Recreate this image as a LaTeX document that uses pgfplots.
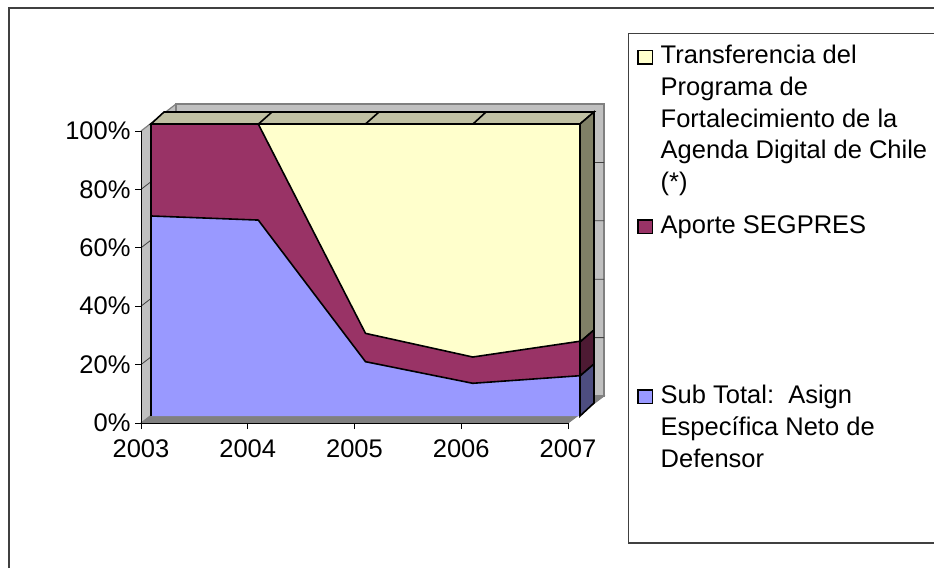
\documentclass[border=0pt]{standalone}
\usepackage{pgfplots}
\usepackage{fontspec}
\setmainfont{Liberation Sans}
\pgfplotsset{compat=1.18}
\definecolor{cblue}{HTML}{9999FF}
\definecolor{cmaroon}{HTML}{993366}
\definecolor{cyellow}{HTML}{FFFFCC}
\definecolor{topf}{HTML}{C0C0A3}
\definecolor{sidey}{HTML}{808066}
\definecolor{sidem}{HTML}{4D1A33}
\definecolor{sideb}{HTML}{4D4D80}
\definecolor{wall}{HTML}{C0C0C0}
\definecolor{floorc}{HTML}{808080}
\definecolor{frame}{HTML}{404040}
\newcommand{\lab}{\fontsize{25.5}{30}\selectfont}
\begin{document}
\begin{tikzpicture}[x=1pt,y=1pt]
% pixel-space layer: frame, walls, legend
\begin{axis}[name=page,at={(0pt,0pt)},anchor=south west,scale only axis,width=934pt,height=568pt,
  xmin=0,xmax=934,ymin=0,ymax=568,y dir=reverse,hide axis,clip=true]
\path (axis cs:0,0) rectangle (axis cs:934,568);
\addplot[draw=frame,line width=1.8pt,forget plot] coordinates {(9,568) (9,8) (934,8)};
\addplot[draw=frame,line width=1.2pt,fill=white,forget plot] coordinates {(934,33.5) (628.5,33.5) (628.5,543) (934,543)};
% walls
\addplot[draw=none,fill=wall,forget plot] coordinates {(141,131) (176,104) (176,396) (141,423)} -- cycle;
\addplot[draw=floorc,line width=1.2pt,fill=wall,forget plot] coordinates {(176,396) (176,104) (604,104) (604,396)} -- cycle;
\addplot[draw=floorc,line width=1pt,fill=floorc,forget plot] coordinates {(141,423) (568,423) (604,396) (176,396)} -- cycle;
\addplot[draw=floorc,line width=1.2pt,forget plot] coordinates {(141,131) (176,104)};
% gridlines
\addplot[draw=black!75,line width=.8pt,forget plot] coordinates {(141,189.4) (176,162.4) (604,162.4)};
\addplot[draw=black!75,line width=.8pt,forget plot] coordinates {(141,247.8) (176,220.8) (604,220.8)};
\addplot[draw=black!75,line width=.8pt,forget plot] coordinates {(141,306.2) (176,279.2) (604,279.2)};
\addplot[draw=black!75,line width=.8pt,forget plot] coordinates {(141,364.6) (176,337.6) (604,337.6)};
% faces of the depth
\addplot[draw=black,line width=1.6pt,fill=topf,forget plot] coordinates {(151,124) (580,124) (594,112) (164,112)} -- cycle;
\addplot[draw=black,line width=1.6pt,forget plot] coordinates {(258.5,124) (272,112)};
\addplot[draw=black,line width=1.6pt,forget plot] coordinates {(365.5,124) (379,112)};
\addplot[draw=black,line width=1.6pt,forget plot] coordinates {(473,124) (486,112)};
\addplot[draw=black,line width=1.6pt,fill=sidey,forget plot] coordinates {(580,124) (594,112) (594,330) (580,342)} -- cycle;
\addplot[draw=black,line width=1.6pt,fill=sidem,forget plot] coordinates {(580,342) (594,330) (594,364) (580,376)} -- cycle;
\addplot[draw=black,line width=1.6pt,fill=sideb,forget plot] coordinates {(580,376) (594,364) (594,403) (580,416)} -- cycle;
% legend keys and text
\addplot[draw=black,line width=1.5pt,fill=cyellow,forget plot] coordinates {(638,50.5) (652.5,50.5) (652.5,64) (638,64)} -- cycle;
\addplot[draw=black,line width=1.5pt,fill=cmaroon,forget plot] coordinates {(638,220) (652.5,220) (652.5,233.5) (638,233.5)} -- cycle;
\addplot[draw=black,line width=1.5pt,fill=cblue,forget plot] coordinates {(638,390) (652.5,390) (652.5,403.5) (638,403.5)} -- cycle;
\node[anchor=base west,inner sep=0pt,font=\lab] at (axis cs:660.5,63.5) {Transferencia del};
\node[anchor=base west,inner sep=0pt,font=\lab] at (axis cs:660.5,95.2) {Programa de};
\node[anchor=base west,inner sep=0pt,font=\lab] at (axis cs:660.5,127.3) {Fortalecimiento de la};
\node[anchor=base west,inner sep=0pt,font=\lab] at (axis cs:660.5,158.8) {Agenda Digital de Chile};
\node[anchor=base west,inner sep=0pt,font=\lab] at (axis cs:660.5,190.8) {(*)};
\node[anchor=base west,inner sep=0pt,font=\lab] at (axis cs:660.5,233.5) {Aporte SEGPRES};
\node[anchor=base west,inner sep=0pt,font=\lab] at (axis cs:660.5,403.5) {Sub Total:\ \ Asign};
\node[anchor=base west,inner sep=0pt,font=\lab] at (axis cs:660.5,435.3) {Específica Neto de};
\node[anchor=base west,inner sep=0pt,font=\lab] at (axis cs:660.5,467.3) {Defensor};
\end{axis}
% tick axis on the outer edge of the walls
\begin{axis}[at={(141pt,145pt)},anchor=south west,scale only axis,width=427pt,height=292pt,
  xmin=2003,xmax=2007,ymin=0,ymax=100,axis lines=left,axis line style={-,draw=black,line width=.9pt},
  tick align=outside,tick pos=left,major tick length=6pt,tick style={draw=black,line width=.9pt},
  xtick={2003,2004,2005,2006,2007},xticklabels={2003,2004,2005,2006,2007},
  ytick={0,20,40,60,80,100},yticklabels={0\%,20\%,40\%,60\%,80\%,100\%},
  tick label style={font=\lab},
  x tick label style={yshift=-7pt},y tick label style={xshift=-1pt}]
\end{axis}
% data: the front plane of the stacked areas (fills)
\begin{axis}[at={(151pt,152pt)},anchor=south west,scale only axis,width=429pt,height=292pt,
  xmin=2003,xmax=2007,ymin=0,ymax=100,hide axis,clip=false,stack plots=y]
\addplot[draw=none,fill=cblue] coordinates {(2003,68.5) (2004,67.1) (2005,18.6) (2006,11.2) (2007,13.8)} \closedcycle;
\addplot[draw=none,fill=cmaroon] coordinates {(2003,31.5) (2004,32.9) (2005,9.7) (2006,9.0) (2007,11.8)} \closedcycle;
\addplot[draw=none,fill=cyellow] coordinates {(2003,0) (2004,0) (2005,71.7) (2006,79.8) (2007,74.4)} \closedcycle;
\end{axis}
% the same plane: outlines, at cumulative heights, without a line along the floor
\begin{axis}[at={(151pt,152pt)},anchor=south west,scale only axis,width=429pt,height=292pt,
  xmin=2003,xmax=2007,ymin=0,ymax=100,hide axis,clip=false]
\addplot[draw=black,line width=1.6pt] coordinates {(2003,68.5) (2004,67.1) (2005,18.6) (2006,11.2) (2007,13.8)};
\addplot[draw=black,line width=1.6pt] coordinates {(2004,100) (2005,28.3) (2006,20.2) (2007,25.6)};
\addplot[draw=black,line width=1.6pt] coordinates {(2003,0) (2003,100) (2007,100) (2007,0)};
\end{axis}
\end{tikzpicture}
\end{document}
